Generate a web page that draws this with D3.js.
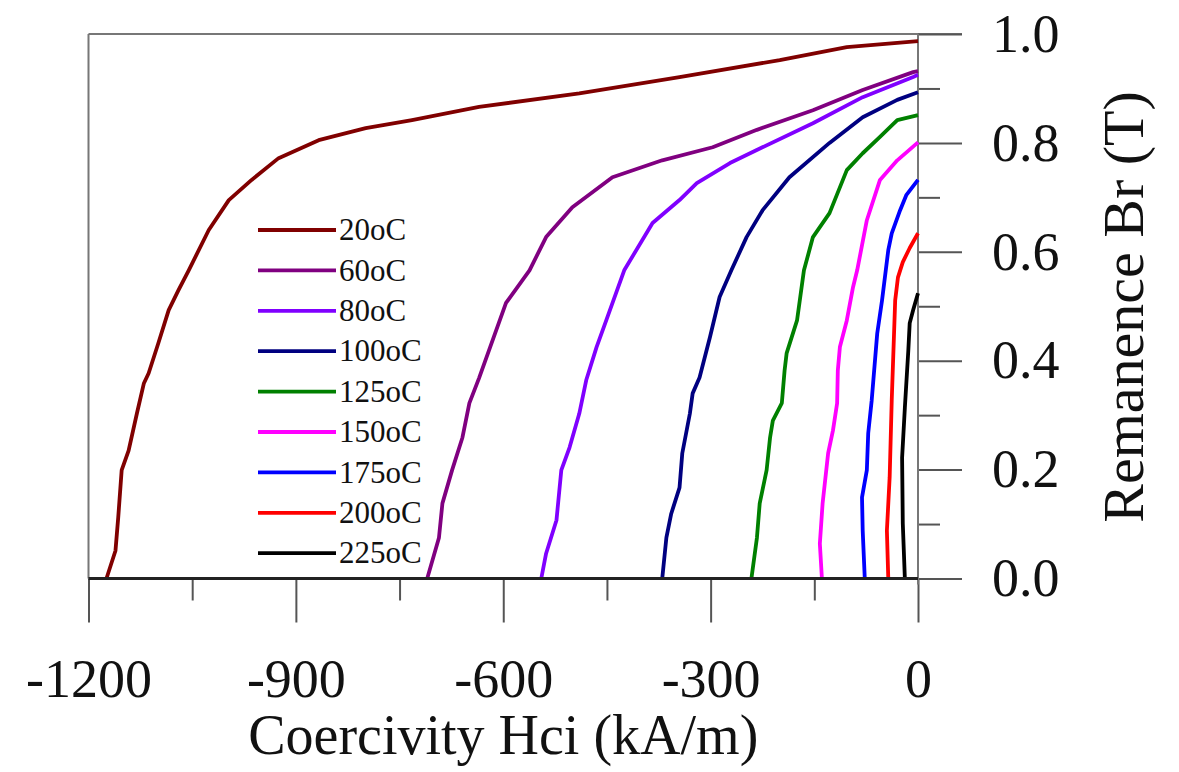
<!DOCTYPE html>
<html>
<head>
<meta charset="utf-8">
<script src="https://cdn.jsdelivr.net/npm/d3@7"></script>
<style>
  body { margin: 0; background: #fff; }
  svg text { font-family: "Liberation Serif", "DejaVu Serif", serif; fill: #111; }
</style>
</head>
<body>
<svg id="chart"></svg>
<script>
const width  = 1179
const height = 772

// demagnetisation curves, [H (kA/m), Br (T)]
const c20  = [[-1174,0],[-1161,0.051],[-1157,0.112],[-1152,0.199],[-1142,0.235],[-1130,0.303],[-1120,0.358],[-1113,0.377],[-1099,0.432],[-1084,0.493],[-1070,0.529],[-1055,0.566],[-1026,0.640],[-997,0.695],[-964,0.732],[-925,0.772],[-867,0.805],[-799,0.827],[-732,0.842],[-635,0.866],[-490,0.891],[-345,0.921],[-200,0.952],[-103,0.976],[0,0.987]]
const c60  = [[-710,0],[-693,0.075],[-688,0.138],[-674,0.199],[-659,0.259],[-649,0.322],[-635,0.368],[-596,0.506],[-562,0.566],[-538,0.627],[-500,0.682],[-442,0.737],[-370,0.768],[-297,0.792],[-233,0.824],[-152,0.860],[-80,0.897],[-7,0.930],[0,0.932]]
const c80  = [[-545,0],[-538,0.046],[-523,0.107],[-516,0.199],[-504,0.241],[-490,0.303],[-480,0.364],[-465,0.425],[-451,0.474],[-425,0.566],[-384,0.653],[-345,0.695],[-320,0.726],[-272,0.763],[-225,0.792],[-152,0.836],[-80,0.884],[-7,0.921],[0,0.925]]
const c100 = [[-370,0],[-364,0.075],[-357,0.119],[-345,0.167],[-341,0.230],[-330,0.303],[-326,0.340],[-316,0.369],[-301,0.443],[-287,0.517],[-270,0.566],[-248,0.627],[-225,0.676],[-186,0.737],[-128,0.800],[-80,0.847],[-30,0.879],[0,0.893]]
const c125 = [[-241,0],[-233,0.075],[-229,0.138],[-219,0.199],[-214,0.259],[-210,0.290],[-197,0.322],[-193,0.382],[-190,0.414],[-175,0.474],[-165,0.566],[-152,0.627],[-128,0.671],[-103,0.750],[-80,0.781],[-55,0.811],[-30,0.842],[0,0.851]]
const c150 = [[-139,0],[-142,0.064],[-138,0.138],[-130,0.230],[-123,0.272],[-117,0.322],[-116,0.382],[-113,0.425],[-103,0.474],[-94,0.535],[-88,0.566],[-74,0.658],[-55,0.732],[-30,0.768],[0,0.801]]
const c175 = [[-77,0],[-80,0.088],[-81,0.149],[-74,0.199],[-72,0.267],[-67,0.327],[-59,0.450],[-52,0.511],[-43,0.603],[-38,0.634],[-26,0.676],[-17,0.704],[0,0.732]]
const c200 = [[-43,0],[-45,0.088],[-41,0.186],[-38,0.327],[-33,0.511],[-29,0.553],[-22,0.581],[-12,0.607],[0,0.634]]
const c225 = [[-19,0],[-22,0.101],[-23,0.222],[-19,0.314],[-14,0.419],[-12,0.469],[-7,0.493],[0,0.524]]

const labels = ["20oC","60oC","80oC","100oC","125oC","150oC","175oC","200oC","225oC"]
const curves = [c20, c60, c80, c100, c125, c150, c175, c200, c225]
const colors = ["#800000","#800080","#8000ff","#000080","#008000","#ff00ff","#0000ff","#ff0000","#000000"]

const xMajor = [-1200, -900, -600, -300, 0]
const xMinor = [-1050, -750, -450, -150]
const yMajor = [0, 0.2, 0.4, 0.6, 0.8, 1.0]
const yMinor = [0.1, 0.3, 0.5, 0.7, 0.9]

const plotLeft = 88.5, plotRight = 918, plotTop = 34, plotBottom = 578.5

let svg = d3.select("#chart")
            .attr("width", width)
            .attr("height", height)

const x = d3.scaleLinear().domain([-1200, 0]).range([plotLeft, plotRight])
const y = d3.scaleLinear().domain([0, 1]).range([plotBottom, plotTop])

// frame
svg.append("line").attr("x1", plotLeft).attr("x2", plotRight + 44).attr("y1", plotTop).attr("y2", plotTop)
    .style("stroke", "#777").style("stroke-width", 2)
svg.append("line").attr("x1", plotLeft).attr("x2", plotLeft).attr("y1", plotTop).attr("y2", plotBottom)
    .style("stroke", "#777").style("stroke-width", 2)

// x axis: minor then major
const styleAxis = (g) => {
    g.select(".domain").remove()
    g.selectAll(".tick line").style("stroke", "#555").style("stroke-width", 2)
}
svg.append("g").attr("transform", `translate(0,${plotBottom})`)
    .call(d3.axisBottom(x).tickValues(xMinor).tickSize(22).tickFormat(""))
    .call(styleAxis)
svg.append("g").attr("transform", `translate(0,${plotBottom})`)
    .call(d3.axisBottom(x).tickValues(xMajor).tickSize(44).tickPadding(36).tickFormat(d => String(d)))
    .call(styleAxis)
    .call(g => g.selectAll("text").style("font-size", "54px").style("fill", "#111")
                .style("font-family", "Liberation Serif"))

// y axis on the right
svg.append("g").attr("transform", `translate(${plotRight},0)`)
    .call(d3.axisRight(y).tickValues(yMinor).tickSize(22).tickFormat(""))
    .call(styleAxis)
svg.append("g").attr("transform", `translate(${plotRight},0)`)
    .call(d3.axisRight(y).tickValues(yMajor).tickSize(44).tickPadding(30).tickFormat(d3.format(".1f")))
    .call(styleAxis)
    .call(g => g.selectAll("text").style("font-size", "54px").style("fill", "#111")
                .style("font-family", "Liberation Serif"))
svg.append("line").attr("x1", plotRight).attr("x2", plotRight).attr("y1", plotTop).attr("y2", plotBottom + 6)
    .style("stroke", "#777").style("stroke-width", 2)

// curves
const line = d3.line().x(d => x(d[0])).y(d => y(d[1]))
svg.append("g")
    .selectAll("path")
    .data(curves)
    .enter().append("path")
    .attr("d", line)
    .style("fill", "none")
    .style("stroke", (d, i) => colors[i])
    .style("stroke-width", 3.8)
    .style("stroke-linejoin", "round")

// x axis base line
svg.append("line").attr("x1", plotLeft).attr("x2", plotRight).attr("y1", plotBottom).attr("y2", plotBottom)
    .style("stroke", "#222").style("stroke-width", 3)

// legend
let legend = svg.append("g")
let rows = legend.selectAll("g")
    .data(labels)
    .enter().append("g")
    .attr("transform", (d, i) => `translate(258,${230 + i * 40.4})`)
rows.append("line").attr("x1", 0).attr("x2", 78)
    .style("stroke", (d, i) => colors[i]).style("stroke-width", 3.8)
rows.append("text").attr("x", 81).attr("dy", "0.33em")
    .style("font-size", "31px")
    .text(d => d)

// axis titles
svg.append("text").attr("x", (plotLeft + plotRight) / 2).attr("y", 754)
    .attr("text-anchor", "middle").style("font-size", "56px")
    .text("Coercivity Hci (kA/m)")
svg.append("text").attr("transform", "translate(1143,307) rotate(-90)")
    .attr("text-anchor", "middle").style("font-size", "58px")
    .text("Remanence Br (T)")
</script>
</body>
</html>
